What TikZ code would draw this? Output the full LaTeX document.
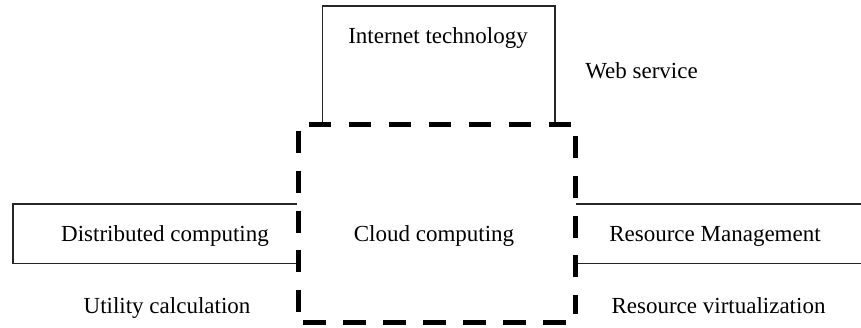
\documentclass[tikz,border=0pt]{standalone}
\usepackage{fontspec}
\setmainfont{Liberation Serif}
\begin{document}
\begin{tikzpicture}[x=1pt,y=-1pt,
  thinline/.style={draw=black!85,line width=1.3pt},
  cloudedge/.style={draw=black,line width=5pt,line cap=butt,dash pattern=on 22.5pt off 17.5pt},
  cloudedgev/.style={draw=black,line width=5pt,line cap=butt,dash pattern=on 22pt off 17.6pt},
  label/.style={anchor=base,inner sep=0pt,font=\fontsize{23}{27}\selectfont}]
\useasboundingbox (0,0) rectangle (861,328);

% corners of the dashed cloud frame
\coordinate (ct1) at (308.5,125);
\coordinate (ct2) at (573.5,125);
\coordinate (cl1) at (298,131.5);
\coordinate (cl2) at (298,313.5);
\coordinate (cr1) at (575,136.5);
\coordinate (cr2) at (575,314);
\coordinate (cb1) at (303,322);
\coordinate (cb2) at (568.5,322);

% upper box (internet technology)
\coordinate (ua) at (322.5,125);
\coordinate (ub) at (322.5,6);
\coordinate (uc) at (555,6);
\coordinate (ud) at (555,125);
\draw[thinline] (ua) -- (ub) -- (uc) -- (ud);

% left box (distributed computing)
\coordinate (la) at (297,204);
\coordinate (lb) at (13,204);
\coordinate (lc) at (13,263.5);
\coordinate (ld) at (300,263.5);
\draw[thinline] (la) -- (lb) -- (lc) -- (ld);

% right box (resource management)
\coordinate (ra) at (576,204);
\coordinate (rb) at (861,204);
\coordinate (rc) at (573,263.5);
\coordinate (rd) at (861,263.5);
\draw[thinline] (ra) -- (rb);
\draw[thinline] (rc) -- (rd);

% dashed cloud frame
\draw[cloudedge] (ct1) -- (ct2);
\draw[cloudedge] (cb1) -- (cb2);
\draw[cloudedgev] (cl1) -- (cl2);
\draw[cloudedgev] (cr1) -- (cr2);

% labels
\node[label] (inet) at (438,43.3) {Internet technology};
\node[label] (web) at (641.5,78.3) {Web service};
\node[label] (dist) at (165,241.7) {Distributed computing};
\node[label] (cloud) at (434,241.7) {Cloud computing};
\node[label] (resm) at (715,241.7) {Resource Management};
\node[label] (util) at (167,313) {Utility calculation};
\node[label] (resv) at (718.5,313) {Resource virtualization};
\end{tikzpicture}
\end{document}
